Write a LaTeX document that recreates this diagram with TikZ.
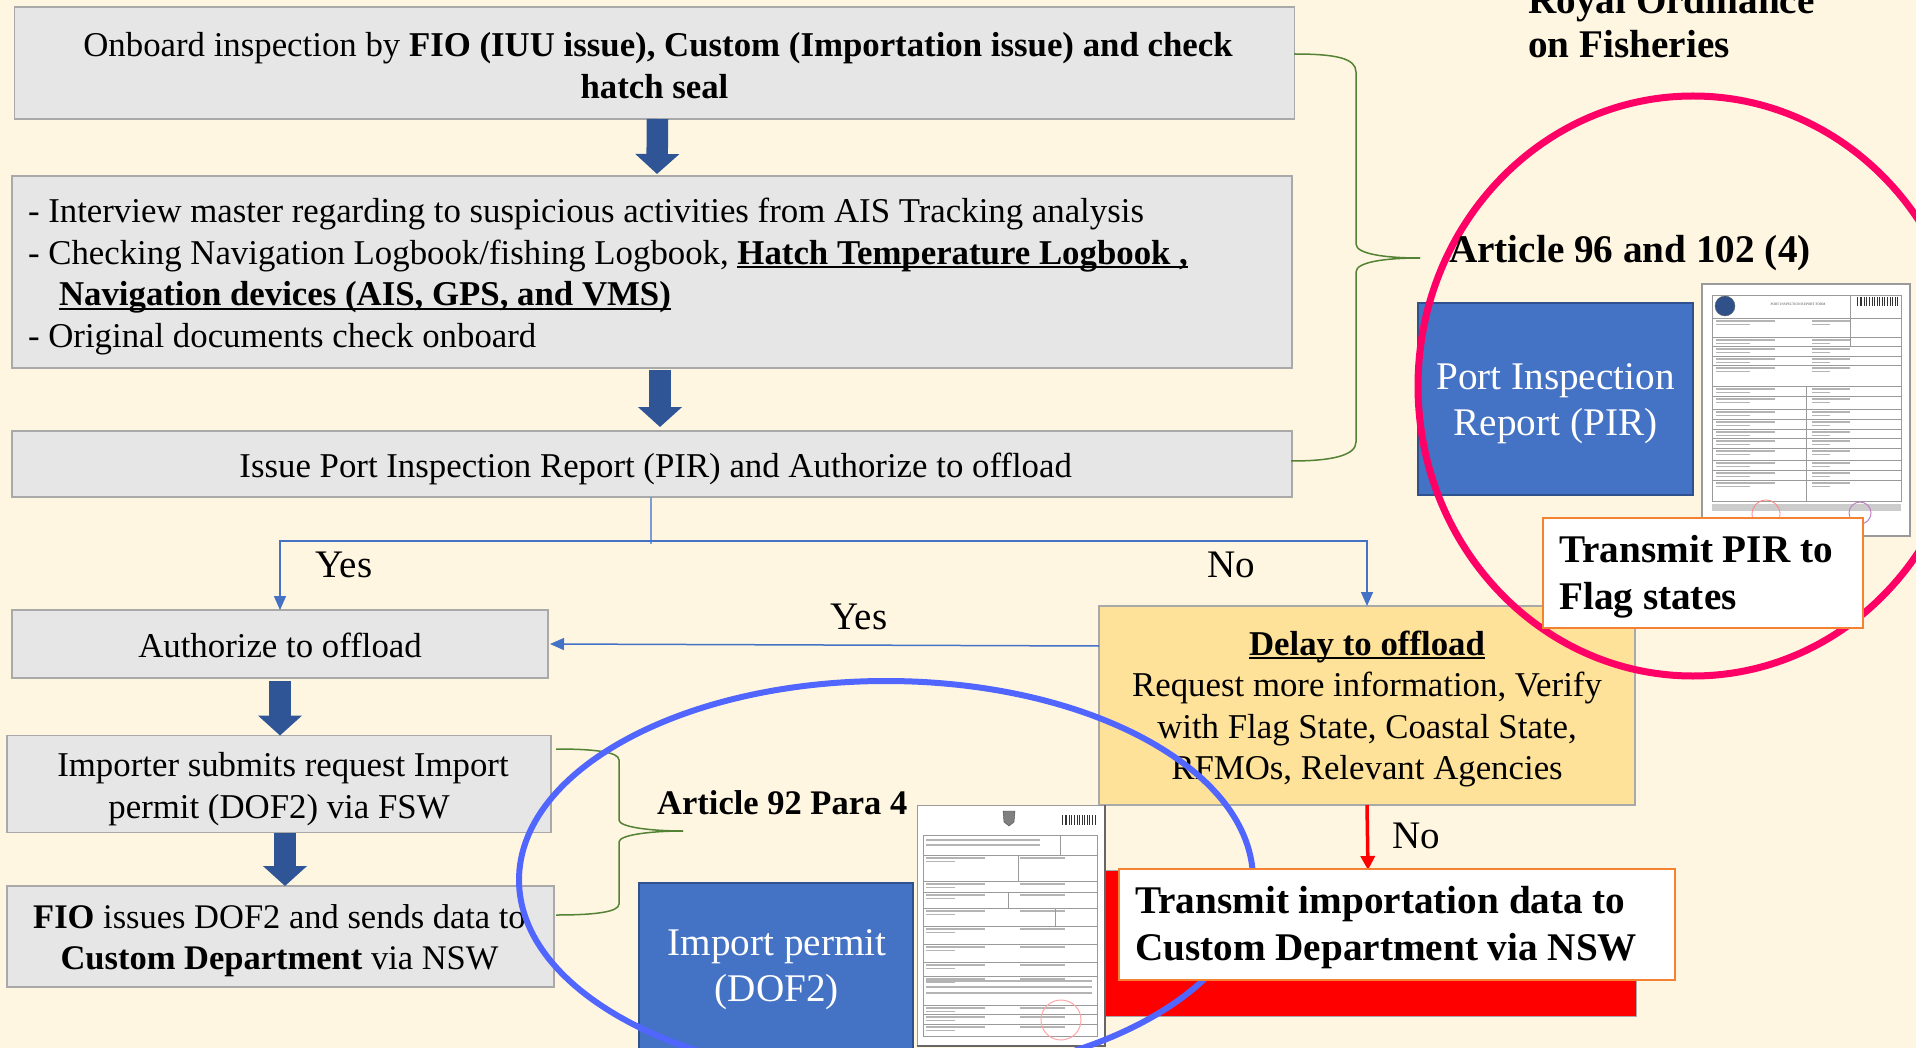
\documentclass[tikz,border=0pt]{standalone}
\usepackage{fontspec}
\setmainfont{Liberation Serif}
\usetikzlibrary{arrows.meta,calc,shapes.geometric}
\definecolor{bgc}{HTML}{FFF6E1}
\definecolor{grayfill}{HTML}{E6E6E6}
\definecolor{grayedge}{HTML}{A9A9A9}
\definecolor{yellowfill}{HTML}{FFE299}
\definecolor{officeblue}{HTML}{4472C4}
\definecolor{blueedge}{HTML}{2F528F}
\definecolor{arrowblue}{HTML}{2F5597}
\definecolor{orangeedge}{HTML}{F58233}
\definecolor{bracegreen}{HTML}{548235}
\definecolor{pinkring}{HTML}{FF0066}
\definecolor{bluering}{HTML}{5066FF}
\definecolor{formline}{HTML}{9A9A9A}
\definecolor{formbar}{HTML}{B4B4B4}
\newcommand{\fsz}[2]{\fontsize{#1}{#2}\selectfont}
\newcommand{\ulin}[1]{\setbox0\hbox{#1}\rlap{\rule[-0.12em]{\wd0}{0.065em}}\box0}
\tikzset{
  box/.style={draw=grayedge,fill=grayfill,line width=1.5pt,inner sep=0pt,outer sep=0pt},
  yellowbox/.style={box,fill=yellowfill},
  boxtext/.style={inner sep=0pt,outer sep=0pt,align=center,font=\fsz{34.8}{41.6}},
  bluebox/.style={draw=blueedge,fill=officeblue,line width=2pt,inner sep=0pt,outer sep=0pt},
  bluetext/.style={inner sep=0pt,align=center,text=white,font=\fsz{39.2}{46}},
  notebox/.style={draw=orangeedge,fill=white,line width=2.5pt,inner sep=0pt,outer sep=0pt},
  boldlabel/.style={inner sep=0pt,font=\fsz{39.2}{46}\bfseries,align=left,anchor=base west},
  flowlabel/.style={inner sep=0pt,font=\fsz{39}{44}},
  blockarrow/.style={draw=arrowblue,line width=21.5pt,-{Triangle[length=20pt,width=43pt,fill=arrowblue]}},
  flow/.style={draw=officeblue,line width=1.5pt},
  flowarrow/.style={flow,-{Triangle[length=14pt,width=12pt,fill=officeblue]}},
  redarrow/.style={draw=red,line width=3.5pt,-{Triangle[length=14pt,width=14pt,fill=red]}},
  bracecurve/.style={draw=bracegreen,line width=1.5pt},
  ringpink/.style={shape=ellipse,draw=pinkring,line width=7pt,inner sep=0pt,outer sep=0pt,minimum width=550pt,minimum height=580pt},
  ringblue/.style={shape=ellipse,draw=bluering,line width=6pt,inner sep=0pt,outer sep=0pt,minimum width=734pt,minimum height=398pt},
  formrule/.style={draw=formline,line width=0.7pt},
  formtext/.style={draw=formbar,line width=1.3pt},
}
\begin{document}
\begin{tikzpicture}[x=1pt,y=-1pt]
\useasboundingbox (0,0) rectangle (1916,1048);
\clip (0,0) rectangle (1916,1048);
\fill[bgc] (0,0) rectangle (1916,1048);

% header text
\node[boldlabel] (royal) at (1528,14) {Royal Ordinance};
\node[boldlabel] (fish) at (1528,58) {on Fisheries};

% left flow boxes
\node[box,minimum width=1280pt,minimum height=112pt] (b1) at (654.5,63) {};
\node[boxtext] (b1text) at (654.5,65.4) {\hspace*{7pt}Onboard inspection by \textbf{FIO (IUU issue), Custom (Importation issue) and check}\\ \textbf{hatch seal}};
\node[box,minimum width=1280pt,minimum height=192pt] (b2) at (652,272) {};
\node[boxtext,align=left,anchor=north west] (b2text) at (28,198) {- Interview master regarding to suspicious activities from AIS Tracking analysis\\
- Checking Navigation Logbook/fishing Logbook, \textbf{\ulin{Hatch Temperature Logbook ,}}\\
\hspace*{31pt}\textbf{\ulin{Navigation devices (AIS, GPS, and VMS)}}\\
- Original documents check onboard};
\node[box,minimum width=1280pt,minimum height=66pt] (b3) at (652,464) {};
\node[boxtext] (b3text) at (655.7,469) {Issue Port Inspection Report (PIR) and Authorize to offload};
\node[box,minimum width=536pt,minimum height=68pt] (auth) at (280,644) {};
\node[boxtext] (authtext) at (280,645) {Authorize to offload};
\node[box,minimum width=544pt,minimum height=97pt] (imp) at (279,784) {};
\node[boxtext] (imptext) at (279,789) {\hspace*{8pt}Importer submits request Import\\ permit (DOF2) via FSW};
\node[box,minimum width=547pt,minimum height=101pt] (fio) at (280.5,936.5) {};
\node[boxtext,font=\fsz{34.5}{41.6}] (fiotext) at (279.5,940.5) {\textbf{FIO} issues DOF2 and sends data to\\ \textbf{Custom Department} via NSW};
\node[yellowbox,minimum width=536pt,minimum height=199pt] (delay) at (1367,705.5) {};
\node[boxtext] (delaytext) at (1367,709) {\textbf{\ulin{Delay to offload}}\\ Request more information, Verify\\ with Flag State, Coastal State,\\ RFMOs, Relevant Agencies};

% block arrows
\draw[blockarrow] ([xshift=3pt]b1.south) -- ([xshift=5pt,yshift=2pt]b2.north);
\draw[blockarrow] ([xshift=8pt,yshift=-2pt]b2.south) -- ([xshift=8pt,yshift=4pt]b3.north);
\draw[blockarrow] ([yshift=-3pt]auth.south) -- ([xshift=1pt]imp.north);
\draw[blockarrow] ([xshift=6pt]imp.south) -- ([xshift=4.5pt]fio.north);

% thin flow connectors
\coordinate (split) at (651,541);
\draw[flow,draw=officeblue!70] (b3.south -| split) -- ++(0,47);
\draw[flowarrow] (split) -| (auth.north);
\draw[flowarrow] (split) -| (delay.north);
\draw[flowarrow] ([yshift=59.5pt]delay.west) -- ([xshift=2pt]auth.east);
\node[flowlabel] (yes1) at (344,565) {Yes};
\node[flowlabel] (no1) at (1231,565) {No};
\node[flowlabel] (yes2) at (859,617) {Yes};

% red box and arrow
\node[draw=grayedge,fill=red,line width=1pt,inner sep=0pt,minimum width=532pt,minimum height=146pt] (redbox) at (1370,943) {};
\coordinate (redtip) at (1368,870);
\draw[redarrow] (delay.south) -- (redtip);
\node[flowlabel] (no2) at (1416,836) {No};

% braces
\coordinate (brA) at (1294,54);
\coordinate (brB) at (1420,258);
\coordinate (brC) at (1291,461);
\draw[bracecurve] (brA) .. controls (1335,54) and (1356,58) .. (1356,72) -- (1356,244) .. controls (1356,254) and (1385,258) .. (brB);
\draw[bracecurve] (brB) .. controls (1385,258) and (1356,262) .. (1356,272) -- (1356,442) .. controls (1356,456) and (1330,461) .. (brC);
\coordinate (brD) at (556,749);
\coordinate (brE) at (683,831);
\coordinate (brF) at (556,915);
\draw[bracecurve] (brD) .. controls (595,749) and (619,752) .. (619,760) -- (619,820) .. controls (619,827) and (650,831) .. (brE);
\draw[bracecurve] (brE) .. controls (650,831) and (619,835) .. (619,842) -- (619,904) .. controls (619,912) and (595,915) .. (brF);

% PIR box and form
\node[bluebox,minimum width=275pt,minimum height=192pt] (pir) at (1555.5,399) {};
\node[bluetext] (pirtext) at (1555.5,404) {Port Inspection\\ Report (PIR)};
\node[draw=formline,fill=white,line width=1.5pt,inner sep=0pt,minimum width=208pt,minimum height=252pt] (pirform) at (1806,410) {};
\begin{scope}
  \draw[formrule] (1712,295) rectangle (1901,501);
  \foreach \yy in {318,337,346,356,365,386,396,409,419,429,438,448,460,470,480}{
    \draw[formrule] (1712,\yy) -- (1901,\yy);
    \draw[formtext] (1716,\yy+3) -- (1775,\yy+3);
    \draw[formtext] (1716,\yy+6.5) -- (1750,\yy+6.5);
    \draw[formtext] (1812,\yy+3) -- (1850,\yy+3);
    \draw[formtext] (1812,\yy+6.5) -- (1830,\yy+6.5);
  }
  \draw[formrule] (1806,386) -- (1806,501);
  \draw[formrule] (1850,295) -- (1850,346);
  \fill[officeblue!70!black,draw=black!60] (1725,306) circle (10pt);
  \node[inner sep=0pt,font=\fsz{3.5}{4},text=black!70] (pirtitle) at (1798,304) {PORT INSPECTION REPORT FORM};
  \foreach \xx in {1857,1859.5,1861,1864,1866,1869,1871.5,1874,1877,1879,1882,1884,1887,1889.5,1892,1895,1897}{
    \fill[black!80] (\xx,297) rectangle ++(1.3,9);
  }
  \fill[black!20] (1712,504) rectangle (1901,511);
  \draw[red!50,line width=0.8pt] (1766,514) circle (14pt);
  \draw[violet!50,line width=1pt] (1860,513) circle (11pt);
\end{scope}

% DOF2 box and form
\node[bluebox,minimum width=274pt,minimum height=190pt,anchor=north west] (dof) at (639,883) {};
\node[bluetext] (doftext) at (777,970) {Import permit\\ (DOF2)};
\node[draw=formline,fill=white,line width=1.2pt,inner sep=0pt,minimum width=188pt,minimum height=241pt,anchor=north west] (dofform) at (917,805) {};
\begin{scope}
  \draw[formrule] (923,835) rectangle (1097,1036);
  \foreach \yy in {855,881,892,908,926,944,962,976,1005,1014,1024}{
    \draw[formrule] (923,\yy) -- (1097,\yy);
    \draw[formtext] (926,\yy+3) -- (985,\yy+3);
    \draw[formtext] (926,\yy+6.5) -- (955,\yy+6.5);
    \draw[formtext] (1020,\yy+3) -- (1065,\yy+3);
  }
  \draw[formtext] (926,840) -- (1040,840);
  \draw[formtext] (926,845) -- (1040,845);
  \draw[formtext] (926,981) -- (1092,981);
  \draw[formtext] (926,987) -- (1092,987);
  \draw[formtext] (926,993) -- (1092,993);
  \draw[formrule] (1018,855) -- (1018,881);
  \draw[formrule] (1060,835) -- (1060,855);
  \draw[formrule] (1008,892) -- (1008,908);
  \draw[formrule] (1055,908) -- (1055,926);
  \draw[black!70,fill=black!50] (1003,811) -- (1015,811) -- (1014,822) -- (1009,826) -- (1004,822) -- cycle;
  \foreach \xx in {1062,1064.5,1066,1069,1071,1074,1076.5,1079,1082,1084,1087,1089,1092,1094.5}{
    \fill[black!80] (\xx,815) rectangle ++(1.2,10);
  }
  \draw[red!35,line width=1pt] (1061,1020) circle (20pt);
\end{scope}
\draw[black!60,line width=1.5pt] (1105,805) -- (1105,1046) -- (917,1046);

% rings
\node[ringpink] (ring1) at (1693,386) {};
\node[ringblue] (ring2) at (886,880) {};

% labels above rings
\node[boldlabel] (art96) at (1449,263) {Article 96 and 102 (4)};
\node[boldlabel,font=\fsz{34.5}{40}\bfseries] (art92) at (657,814) {Article 92 Para 4};

% note boxes
\node[notebox,minimum width=320pt,minimum height=110pt,anchor=north west] (pirnote) at (1543,518) {};
\node[boldlabel] (pirnotetext) at (1559,562) {Transmit PIR to};
\node[boldlabel] (pirnotetextb) at (1559,609) {Flag states};
\node[notebox,minimum width=556pt,minimum height=111pt,anchor=north west] (nswnote) at (1119,869) {};
\node[boldlabel] (nswtexta) at (1135,913) {Transmit importation data to};
\node[boldlabel] (nswtextb) at (1135,960) {Custom Department via NSW};
\end{tikzpicture}
\end{document}
